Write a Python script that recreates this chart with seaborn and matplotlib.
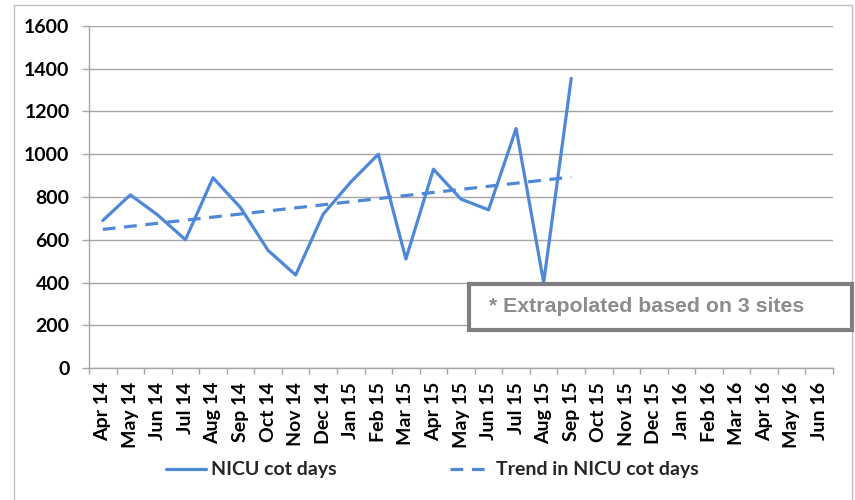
import numpy as np
import pandas as pd
import matplotlib
matplotlib.use("Agg")
import matplotlib.pyplot as plt
import seaborn as sns
from matplotlib.patches import Rectangle
from matplotlib.lines import Line2D

# ---- data ----
months = ["Apr 14", "May 14", "Jun 14", "Jul 14", "Aug 14", "Sep 14", "Oct 14",
          "Nov 14", "Dec 14", "Jan 15", "Feb 15", "Mar 15", "Apr 15", "May 15",
          "Jun 15", "Jul 15", "Aug 15", "Sep 15", "Oct 15", "Nov 15", "Dec 15",
          "Jan 16", "Feb 16", "Mar 16", "Apr 16", "May 16", "Jun 16"]
cot_days = [690, 810, 715, 600, 890, 750, 550, 435, 720, 870, 1000, 510,
            930, 790, 740, 1120, 400, 1355]
y_ticks = [0, 200, 400, 600, 800, 1000, 1200, 1400, 1600]
series_label = "NICU cot days"
trend_label = "Trend in NICU cot days"
note_text = "* Extrapolated based on 3 sites"

BLUE = "#4F88D6"
GRID = "#a6a6a6"
FS = 14

sns.set_theme(style="white")
plt.rcParams['font.family'] = ['Lato', 'DejaVu Sans']

W, H = 855, 500
fig = plt.figure(figsize=(W / 100, H / 100), dpi=100)
ax = fig.add_axes([89 / W, 1 - 368 / H, (833 - 89) / W, (368 - 26) / H])

pos = np.arange(len(cot_days))
df = pd.DataFrame({"pos": pos, "value": cot_days})
slope, intercept = np.polyfit(pos, cot_days, 1)
df["trend"] = intercept + slope * pos

sns.lineplot(data=df, x="pos", y="value", ax=ax, color=BLUE, lw=2.3,
             legend=False, zorder=3)
sns.lineplot(data=df, x="pos", y="trend", ax=ax, color=BLUE, lw=2.3,
             linestyle=(0, (4, 2.7)), legend=False, zorder=3)

ax.set_xlim(-0.5, len(months) - 0.5)
ax.set_ylim(0, 1600)
ax.set_xticks(np.arange(len(months)))
ax.set_xticklabels(months, rotation=90, fontsize=FS, fontweight="bold",
                   va="top", ha="center")
ax.set_xticks(np.arange(-0.5, len(months), 1), minor=True)
ax.set_yticks(y_ticks)
ax.set_yticklabels([str(v) for v in y_ticks], fontsize=FS, fontweight="bold")
ax.set_xlabel("")
ax.set_ylabel("")

ax.tick_params(axis="x", which="major", length=0, pad=10, colors="black")
ax.tick_params(axis="x", which="minor", length=4.5, width=1, color=GRID,
               direction="out", bottom=True)
ax.tick_params(axis="y", which="major", length=5, width=1, color=GRID,
               direction="out", left=True, pad=9, labelcolor="black")

ax.yaxis.grid(True, color=GRID, lw=1)
ax.xaxis.grid(False)
ax.set_axisbelow(True)
for s in ["top", "right"]:
    ax.spines[s].set_visible(False)
for s in ["left", "bottom"]:
    ax.spines[s].set_color(GRID)
    ax.spines[s].set_linewidth(1)

# legend
handles = [Line2D([], [], color=BLUE, lw=2.3),
           Line2D([], [], color=BLUE, lw=2.3, linestyle=(0, (4, 2.7)))]
fig.legend(handles, [series_label, trend_label], loc="center",
           bbox_to_anchor=(432 / W, 1 - 470 / H), ncol=2, frameon=False,
           prop={"size": FS, "weight": "bold"}, handlelength=2.06,
           handletextpad=0.3, columnspacing=5.8)

# outer chart border
fig.patches.append(Rectangle((14 / W, -0.02), (852 - 14) / W, 1 - 5 / H + 0.02,
                             transform=fig.transFigure, fill=False,
                             edgecolor="#bfbfbf", lw=1, zorder=5))

# annotation box
fig.patches.append(Rectangle((469 / W, 1 - 330 / H), (852 - 469) / W, 46 / H,
                             transform=fig.transFigure, facecolor="white",
                             edgecolor="#7f7f7f", lw=3, zorder=6))
fig.text(489 / W, 1 - 307 / H, note_text, fontsize=15.3, fontweight="bold",
         color="#8c8c8c", family=["Liberation Sans", "DejaVu Sans"],
         va="center", ha="left", zorder=7)

fig.savefig("out.png", dpi=100)
